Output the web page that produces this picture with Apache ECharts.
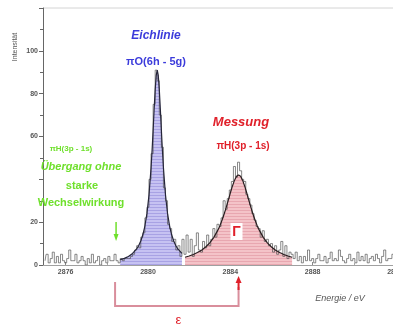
<!DOCTYPE html>
<html>
<head>
<meta charset="utf-8">
<script src="https://cdn.jsdelivr.net/npm/echarts@6/dist/echarts.min.js"></script>
<style>
  html, body { margin: 0; padding: 0; background: #fff; }
  #chart { width: 393px; height: 328px; }
</style>
</head>
<body>
<div id="chart"></div>
<script>
// Histogramm: 0.1 eV Bins ab 2875.0 eV
const binStart = 2875.0
const binWidth = 0.1
const counts = [
  2, 5, 1, 3, 6, 1, 4, 1, 5, 2,
  1, 3, 7, 2, 2, 5, 1, 2, 4, 2,
  0, 3, 1, 5, 1, 2, 4, 0, 2, 3,
  1, 4, 2, 2, 5, 2, 1, 3, 2, 3,
  3, 3, 4, 5, 7,
  // Eichlinie
  9, 8, 13, 15, 22, 27, 40, 52, 75, 91,
  86, 70, 55, 36, 30, 19, 17, 11, 12, 7,
  9, 4, 12, 5, 14,
  // Messung
  6, 12, 4, 9, 15, 7, 6, 11, 8, 14,
  9, 12, 17, 13, 19, 18, 22, 30, 26, 31,
  35, 39, 46, 41, 48, 44, 40, 39, 33, 31,
  28, 24, 21, 18, 17, 13, 16, 11, 12, 9,
  10, 6, 9, 5, 7, 11, 4, 9, 3, 6,
  5,
  // Untergrund rechts
  3, 6, 2, 4, 1, 4, 2, 7, 2,
  3, 1, 3, 5, 2, 2, 4, 1, 3, 6,
  2, 3, 2, 7, 4, 2, 1, 3, 5, 2,
  3, 1, 6, 2, 4, 2, 5, 1, 3, 4,
  2, 5, 3, 1, 4, 7, 2, 3, 3, 5,
  2
]

// Fit πO(6h-5g)
const blueFitE = [2878.65, 2878.85, 2879.05, 2879.25, 2879.45, 2879.55, 2879.65, 2879.75, 2879.85, 2879.95,
  2880.05, 2880.15, 2880.2, 2880.25, 2880.3, 2880.35, 2880.4, 2880.45, 2880.5, 2880.55,
  2880.6, 2880.65, 2880.7, 2880.75, 2880.85, 2880.95, 2881.05, 2881.15, 2881.25, 2881.35,
  2881.45, 2881.65]
const blueFitY = [2.5, 3.1, 4.0, 5.4, 7.5, 9.1, 11.2, 14.1, 18.2, 24.1,
  32.8, 45.5, 53.7, 63, 72.8, 81.9, 88.5, 91, 88.5, 81.9,
  72.8, 63, 53.7, 45.5, 32.8, 24.1, 18.2, 14.1, 11.2, 9.1,
  7.5, 5.4]

// Fit πH(3p-1s)
const redFitE = [2881.8, 2882.0, 2882.2, 2882.4, 2882.6, 2882.8, 2883.0, 2883.2, 2883.4,
  2883.5, 2883.6, 2883.7, 2883.8, 2883.9, 2884.0, 2884.1, 2884.2, 2884.3, 2884.4,
  2884.5, 2884.6, 2884.7, 2884.8, 2884.9, 2885.0, 2885.1, 2885.2, 2885.3,
  2885.4, 2885.6, 2885.8, 2886.0, 2886.2, 2886.4, 2886.6, 2886.8, 2887.0]
const redFitY = [3.6, 4.2, 4.9, 5.8, 6.9, 8.4, 10.3, 12.9, 16.4,
  18.5, 21, 23.8, 26.9, 30.2, 33.6, 36.8, 39.5, 41.4, 42,
  41.4, 39.5, 36.8, 33.6, 30.2, 26.9, 23.8, 21, 18.5,
  16.4, 12.9, 10.3, 8.4, 6.9, 5.8, 4.9, 4.2, 3.6]

const xTickLabels = [2876, 2880, 2884, 2888, 2892]
const xMinorTicks = [2878, 2882, 2886, 2890]
const yTickLabels = [0, 20, 60, 80, 100]

// Lage ohne starke Wechselwirkung und gemessene Lage (Verschiebung ε)
const emPosition = 2878.45
const measuredPosition = 2884.4

const energies = counts.map((_, i) => +(binStart + i * binWidth).toFixed(2))
const zip = (xs, ys) => xs.map((x, i) => [x, ys[i]])

function stripes(bg, line) {
  const c = document.createElement('canvas')
  c.width = 6
  c.height = 3
  const ctx = c.getContext('2d')
  ctx.fillStyle = bg
  ctx.fillRect(0, 0, 6, 3)
  ctx.fillStyle = line
  ctx.fillRect(0, 0, 6, 1)
  return { image: c, repeat: 'repeat' }
}

const FONT = '"Liberation Sans", Arial, sans-serif'
const BLUE = '#3b3bdb'
const RED = '#e0202a'
const GREEN = '#6fe02c'

const chart = echarts.init(document.getElementById('chart'), null, { renderer: 'canvas' })

const option = {
  animation: false,
  backgroundColor: '#fff',
  grid: { left: 43, right: -2, top: 8, bottom: 63, containLabel: false, outerBoundsMode: 'none' },
  xAxis: [
    {
      type: 'value',
      min: 2874.9,
      max: 2892,
      splitLine: { show: false },
      axisLine: { show: true, lineStyle: { color: '#a0a0a0', width: 1 } },
      axisTick: { show: true, inside: true, length: 3, customValues: xTickLabels, lineStyle: { color: '#888' } },
      axisLabel: {
        margin: 4,
        fontSize: 7,
        fontWeight: 'bold',
        fontFamily: FONT,
        color: '#555',
        customValues: xTickLabels,
        formatter: (v) => String(Math.round(v)),
      },
    },
    {
      // Zwischenstriche
      type: 'value',
      position: 'bottom',
      min: 2874.9,
      max: 2892,
      splitLine: { show: false },
      axisLine: { show: false },
      axisTick: { show: true, inside: true, length: 2, customValues: xMinorTicks, lineStyle: { color: '#aaa' } },
      axisLabel: { show: false },
    },
  ],
  yAxis: {
    type: 'value',
    min: 0,
    max: 120,
    interval: 20,
    splitLine: { show: false },
    axisLine: { show: true, lineStyle: { color: '#666', width: 1 } },
    axisTick: { show: true, inside: false, length: 4, lineStyle: { color: '#666' } },
    minorTick: { show: true, splitNumber: 2, length: 3, lineStyle: { color: '#666' } },
    axisLabel: {
      margin: 5,
      fontSize: 7,
      fontWeight: 'bold',
      fontFamily: FONT,
      color: '#555',
      formatter: (v) => (yTickLabels.includes(v) ? String(v) : ''),
    },
  },
  series: [
    {
      name: 'Eichlinie Fläche',
      type: 'line',
      data: zip(blueFitE, blueFitY),
      symbol: 'none',
      lineStyle: { width: 0 },
      areaStyle: { color: stripes('#c6c2f2', '#a8a2e4'), opacity: 1 },
      z: 1,
    },
    {
      name: 'Messung Fläche',
      type: 'line',
      data: zip(redFitE, redFitY),
      symbol: 'none',
      lineStyle: { width: 0 },
      areaStyle: { color: stripes('#f4c3c8', '#e8a7b0'), opacity: 1 },
      z: 1,
    },
    {
      name: 'Histogramm',
      type: 'line',
      step: 'middle',
      data: zip(energies, counts),
      symbol: 'none',
      lineStyle: { color: '#555', width: 0.7 },
      z: 2,
    },
    {
      name: 'Fit Eichlinie',
      type: 'line',
      data: zip(blueFitE, blueFitY),
      symbol: 'none',
      lineStyle: { color: '#26263a', width: 1.2 },
      z: 3,
    },
    {
      name: 'Fit Messung',
      type: 'line',
      data: zip(redFitE, redFitY),
      symbol: 'none',
      lineStyle: { color: '#2a1e20', width: 1.2 },
      z: 3,
    },
  ],
}

chart.setOption(option)

function px(e, v) {
  return chart.convertToPixel({ gridIndex: 0 }, [e, v])
}

function buildGraphics() {
  const topLeft = px(2874.9, 120)
  const base = px(2874.9, 0)[1]
  const xg = px(emPosition, 0)[0]
  const xm = px(measuredPosition, 0)[0]
  const bracketBottom = base + 41
  const gammaPos = px(measuredPosition - 0.1, 0)

  const txt = (x, y, text, size, color, extra) => ({
    type: 'text',
    x, y,
    style: Object.assign({
      text, fill: color, fontSize: size, fontFamily: FONT, fontWeight: 'bold',
      align: 'center', verticalAlign: 'middle',
    }, extra || {}),
    z: 10,
  })

  const yName = txt(15, 47, 'Intensität', 7, '#555', { fontWeight: 'normal' })
  yName.rotation = Math.PI / 2

  return [
    // oberer Rahmen
    { type: 'line', shape: { x1: topLeft[0], y1: topLeft[1], x2: 393, y2: topLeft[1] }, style: { stroke: '#d4d4d4', lineWidth: 1 } },
    yName,
    // Beschriftungen
    txt(156, 36, 'Eichlinie', 12, BLUE, { fontStyle: 'italic' }),
    txt(156, 62, 'πO(6h - 5g)', 11, BLUE),
    txt(241, 122, 'Messung', 13, RED, { fontStyle: 'italic' }),
    txt(243, 146, 'πH(3p - 1s)', 10, RED),
    txt(71, 149, 'πH(3p - 1s)', 8, GREEN),
    txt(81, 167, 'Übergang ohne', 11, GREEN, { fontStyle: 'italic' }),
    txt(82, 186, 'starke', 11, GREEN),
    txt(81, 203, 'Wechselwirkung', 11, GREEN),
    // Γ
    { type: 'rect', shape: { x: gammaPos[0] - 6, y: base - 42, width: 12, height: 17 }, style: { fill: '#fff' }, z: 9 },
    txt(gammaPos[0], base - 33, 'Γ', 14, RED),
    // grüner Pfeil: Lage ohne starke Wechselwirkung
    { type: 'line', shape: { x1: xg, y1: base - 43, x2: xg, y2: base - 28 }, style: { stroke: GREEN, lineWidth: 1.5 }, z: 10 },
    { type: 'polygon', shape: { points: [[xg - 2.5, base - 31], [xg + 2.5, base - 31], [xg, base - 24]] }, style: { fill: GREEN }, z: 10 },
    // Klammer ε
    {
      type: 'polyline',
      shape: { points: [[xg - 1, base + 17], [xg - 1, bracketBottom], [xm, bracketBottom], [xm, base + 22]] },
      style: { stroke: '#d98e9c', lineWidth: 2, fill: null },
      z: 10,
    },
    { type: 'line', shape: { x1: xm, y1: base + 16, x2: xm, y2: base + 25 }, style: { stroke: RED, lineWidth: 2 }, z: 11 },
    { type: 'polygon', shape: { points: [[xm - 3, base + 18], [xm + 3, base + 18], [xm, base + 11]] }, style: { fill: RED }, z: 11 },
    txt((xg + xm) / 2 + 1, base + 55, 'ε', 13, RED, { fontWeight: 'normal' }),
    txt(340, base + 33, 'Energie / eV', 9, '#555', { fontStyle: 'italic', fontWeight: 'normal' }),
  ]
}

chart.setOption({ graphic: buildGraphics() })
</script>
</body>
</html>
